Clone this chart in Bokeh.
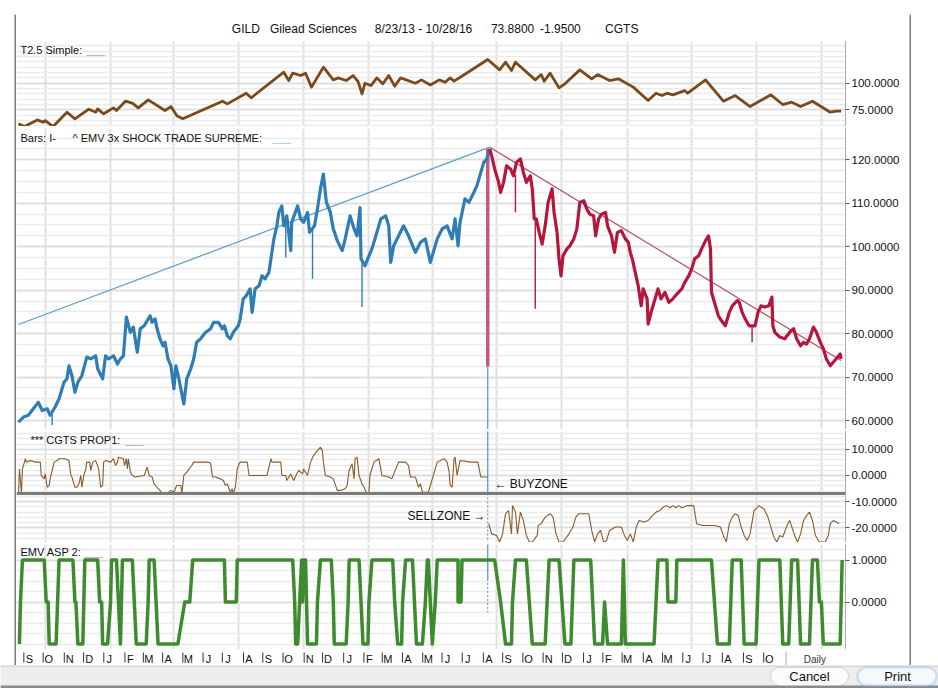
import numpy as np
import pandas as pd
from bokeh.plotting import figure
from bokeh.layouts import column, row, Spacer
from bokeh.models import (Range1d, FixedTicker, NumeralTickFormatter, Label, Span,
                          BoxAnnotation)
from bokeh.core.properties import value
from bokeh.embed import file_html
from bokeh.resources import INLINE

FONT = "Liberation Sans"
BORDER_COLOR = "#7b7b7b"

# ---------------- header ----------------
header_texts = ["GILD", "Gilead Sciences", "8/23/13 - 10/28/16", "73.8800", "-1.9500", "CGTS"]
header_x = [232, 273, 386, 511, 564, 634]

# ---------------- data (x = trading-day index from 8/23/13) ----------------
t25_idx = [0, 6, 19, 25, 27, 35, 49, 57, 71, 78,
           80, 86, 96, 99, 108, 115, 121, 131, 148, 154,
           160, 166, 206, 211, 230, 235, 268, 273, 277, 285,
           290, 296, 308, 318, 323, 331, 338, 343, 347, 350,
           356, 362, 368, 374, 380, 386, 401, 407, 416, 425,
           431, 436, 440, 449, 474, 486, 492, 498, 502, 522,
           528, 531, 537, 546, 552, 567, 579, 585, 597, 606,
           621, 636, 644, 650, 655, 661, 673, 676, 694, 712,
           724, 739, 760, 772, 781, 790, 802, 820, 826, 831]
t25_val = [61.9, 59.4, 65.6, 63.4, 65.0, 59.4, 72.8, 66.6, 75.6, 72.8,
           75.9, 71.3, 76.9, 74.4, 83.1, 81.3, 76.9, 84.4, 74.4, 78.1,
           69.4, 66.6, 83.1, 80.6, 90.6, 86.3, 110.3, 102.5, 109.4, 107.2,
           109.4, 96.3, 115.0, 103.1, 105.0, 102.5, 107.2, 101.6, 90.0, 100.0,
           97.8, 105.0, 99.4, 107.2, 97.2, 105.0, 100.0, 103.1, 98.4, 103.1,
           100.9, 105.0, 101.9, 107.2, 122.2, 112.5, 119.7, 111.9, 119.7, 103.1,
           108.1, 101.9, 109.4, 95.6, 99.4, 112.5, 104.1, 108.1, 102.5, 104.1,
           96.3, 83.8, 90.6, 88.4, 90.6, 89.1, 93.1, 90.6, 103.1, 83.1,
           88.4, 78.1, 89.1, 80.0, 82.2, 78.1, 83.1, 72.8, 73.8, 73.8]

blue_idx = [0, 5, 10, 15, 20, 24, 29, 32, 37, 41,
            46, 49, 51, 54, 57, 60, 64, 69, 73, 78,
            80, 85, 88, 91, 96, 100, 103, 106, 109, 113,
            116, 120, 123, 127, 133, 135, 138, 140, 143, 146,
            148, 151, 154, 157, 159, 162, 167, 170, 174, 177,
            180, 184, 189, 194, 197, 202, 206, 208, 211, 214,
            217, 222, 224, 227, 230, 234, 236, 239, 243, 246,
            249, 253, 255, 258, 261, 263, 266, 268, 271, 275,
            276, 282, 285, 288, 292, 294, 299, 302, 305, 308,
            311, 315, 318, 322, 327, 330, 335, 339, 342, 345,
            346, 350, 354, 357, 361, 366, 371, 374, 376, 379,
            384, 389, 394, 401, 406, 411, 416, 420, 423, 428,
            433, 438, 441, 444, 446, 451, 455, 460, 463, 466,
            470, 473, 476]
blue_val = [59.6, 60.8, 61.2, 62.7, 64.2, 62.3, 62.7, 61.2, 63.1, 65.0,
            68.8, 69.6, 72.6, 70.3, 66.5, 68.8, 70.3, 74.6, 74.2, 74.9,
            71.9, 69.6, 74.9, 74.2, 74.9, 73.0, 74.2, 74.9, 83.8, 80.3,
            81.5, 75.7, 81.1, 81.8, 84.1, 82.6, 83.4, 81.1, 78.8, 77.2,
            78.0, 74.2, 72.6, 67.3, 72.6, 69.6, 63.8, 69.6, 71.9, 74.2,
            78.0, 78.8, 80.3, 81.1, 82.6, 82.6, 81.1, 81.8, 79.5, 78.8,
            80.3, 81.8, 83.4, 88.0, 88.7, 90.3, 84.9, 90.3, 91.0, 93.3,
            92.6, 94.1, 97.2, 101.8, 104.8, 107.9, 109.4, 104.8, 107.1, 99.1,
            105.6, 109.4, 106.4, 105.6, 107.9, 103.3, 104.8, 108.7, 113.3, 116.7,
            110.2, 107.9, 104.1, 101.4, 99.1, 101.8, 107.1, 104.1, 102.5, 109.0,
            97.2, 95.6, 97.9, 99.5, 102.5, 106.4, 107.1, 104.8, 96.4, 100.2,
            102.5, 104.8, 102.5, 98.7, 101.0, 101.8, 96.4, 99.5, 101.8, 104.1,
            104.8, 101.8, 106.4, 100.2, 105.6, 111.0, 110.2, 112.5, 114.0, 116.3,
            119.4, 120.2, 122.5]

red_idx = [476, 478, 481, 485, 487, 490, 493, 497, 500, 503,
           507, 510, 513, 517, 519, 521, 523, 526, 529, 532,
           535, 539, 541, 544, 546, 548, 550, 554, 557, 561,
           564, 567, 571, 574, 577, 581, 583, 586, 589, 593,
           595, 599, 602, 605, 609, 613, 616, 618, 620, 623,
           626, 629, 631, 635, 636, 639, 642, 646, 649, 653,
           657, 661, 665, 670, 673, 677, 680, 683, 687, 690,
           694, 697, 699, 700, 704, 707, 710, 714, 718, 721,
           726, 728, 731, 734, 738, 744, 747, 750, 754, 758,
           761, 762, 764, 769, 774, 779, 783, 786, 790, 793,
           796, 799, 803, 806, 810, 813, 816, 820, 823, 826,
           830, 831]
red_val = [122.5, 120.9, 117.9, 114.8, 112.5, 114.8, 118.6, 117.9, 116.3, 119.4,
           120.2, 117.1, 114.8, 116.3, 113.3, 106.4, 106.4, 103.3, 100.6, 104.8,
           110.2, 113.3, 107.9, 103.3, 97.2, 93.3, 97.9, 99.5, 100.2, 101.8,
           104.1, 110.2, 110.6, 108.7, 107.5, 107.1, 102.5, 106.4, 107.5, 107.9,
           104.8, 102.5, 98.7, 103.3, 103.7, 101.8, 101.0, 98.7, 97.2, 94.1,
           91.0, 86.4, 90.3, 88.0, 82.2, 84.9, 87.2, 90.3, 88.0, 89.5,
           87.2, 88.0, 89.1, 90.3, 91.8, 93.3, 94.9, 97.2, 97.9, 99.5,
           101.4, 102.5, 99.5, 89.5, 86.4, 84.1, 83.0, 81.8, 84.9, 86.4,
           87.6, 87.2, 84.9, 83.4, 81.8, 81.8, 84.9, 86.4, 86.1, 86.4,
           88.4, 81.8, 80.3, 79.2, 78.8, 80.3, 81.1, 78.8, 77.2, 78.0,
           77.6, 78.8, 81.5, 80.3, 78.0, 76.5, 74.2, 72.6, 73.4, 74.2,
           75.3, 74.2]

# single-day spikes (high / low of the bar)
blue_spike_idx = [34, 270, 297, 347]
blue_spike_hi = [61.5, 105.5, 104.0, 97.2]
blue_spike_lo = [58.9, 97.5, 92.6, 86.1]
red_spike_idx = [502, 522, 741]
red_spike_hi = [116.5, 106.4, 81.8]
red_spike_lo = [107.9, 85.7, 78.0]

# trend lines
trend_up_idx = [0, 476]
trend_up_val = [82.1, 122.9]
trend_dn_idx = [476, 831]
trend_dn_val = [122.9, 73.8]

# zone switch bar
switch_idx = 474
switch_lo = 72.4
switch_hi = 122.5

prop_buy_idx = [0, 1, 3, 4, 7, 8, 12, 17, 22, 23,
                26, 27, 29, 31, 32, 36, 39, 41, 47, 51,
                53, 54, 57, 59, 61, 63, 64, 66, 68, 69,
                72, 73, 75, 78, 81, 83, 85, 86, 88, 93,
                96, 98, 100, 101, 106, 107, 109, 110, 111, 113,
                115, 118, 127, 130, 132, 135, 137, 140, 143, 145,
                150, 154, 157, 159, 160, 164, 165, 167, 170, 175,
                177, 191, 194, 196, 199, 204, 207, 209, 211, 214,
                216, 217, 219, 221, 223, 224, 231, 233, 236, 241,
                251, 255, 256, 265, 266, 270, 271, 275, 278, 281,
                283, 287, 288, 292, 295, 298, 302, 305, 307, 308,
                310, 315, 318, 322, 325, 330, 332, 334, 337, 339,
                340, 342, 344, 347, 349, 352, 354, 355, 359, 364,
                366, 367, 374, 377, 384, 391, 394, 396, 401, 404,
                406, 408, 411, 414, 420, 423, 430, 433, 435, 436,
                438, 440, 441, 443, 446, 457, 459, 464, 467, 474]
prop_buy_val = [-7.0, 2.5, -7.0, 2.5, 6.4, 5.1, 5.7, 5.1, 5.1, 0.0,
                -1.3, 0.6, -4.5, -3.8, -1.3, 5.1, 5.7, 6.4, 6.4, 5.7,
                0.0, -0.6, -4.5, -4.5, -3.2, 0.0, -4.5, 0.0, 2.5, 5.1,
                5.1, 1.9, 5.1, 5.7, 2.5, -4.5, -3.8, 5.1, 5.7, 5.1,
                6.4, 3.8, 5.1, 7.0, 6.4, 3.8, 6.4, 2.5, 6.4, 1.3,
                0.0, -0.6, 0.0, 3.2, 0.0, -0.6, -3.2, -4.5, -5.7, -7.0,
                -7.0, -5.7, -6.4, -4.5, -3.8, -3.8, -7.0, 0.0, 1.3, 3.8,
                5.1, 5.1, 4.8, -0.6, -0.6, -1.3, -1.9, -3.8, -3.2, -6.4,
                -5.1, -7.0, -4.5, 2.5, 4.5, 5.1, 5.1, 0.0, 0.0, 0.0,
                0.0, 6.4, 5.1, 5.1, 0.0, 0.0, -1.9, 0.6, -1.9, 0.6,
                1.9, 0.6, 2.5, 0.0, 5.1, 7.6, 9.5, 10.8, 9.5, 5.1,
                0.0, -0.6, -1.3, -5.7, -5.7, -5.1, -3.8, 1.9, 4.5, -1.3,
                6.4, 7.0, 0.0, -3.2, -4.5, -7.0, -6.4, 0.0, 5.1, 6.4,
                2.5, 0.0, -0.6, -1.3, 5.1, 5.1, 3.8, -0.6, -0.6, -4.5,
                -3.2, -6.4, -6.4, -6.4, 1.3, 5.1, 6.4, 5.1, 1.3, -3.8,
                -4.5, 6.4, 7.0, 0.0, 5.7, 5.1, 5.1, 5.1, -0.6, -0.6]

prop_sell_idx = [475, 478, 483, 486, 489, 492, 495, 498, 499, 502,
                 504, 507, 510, 513, 516, 519, 524, 525, 528, 532,
                 537, 540, 543, 546, 550, 555, 560, 563, 566, 570,
                 576, 579, 582, 585, 588, 591, 594, 597, 603, 609,
                 612, 615, 618, 621, 624, 627, 632, 636, 639, 644,
                 648, 651, 655, 658, 661, 664, 667, 670, 676, 682,
                 685, 691, 703, 709, 712, 715, 718, 721, 724, 727,
                 730, 733, 736, 739, 743, 748, 753, 757, 760, 763,
                 766, 769, 772, 777, 779, 784, 787, 790, 793, 796,
                 799, 802, 805, 809, 815, 818, 820, 823, 826, 829]
prop_sell_val = [-18.4, -22.3, -22.9, -25.4, -22.3, -14.6, -13.4, -22.3, -11.5, -14.0,
                 -22.3, -14.0, -17.2, -22.9, -25.4, -25.4, -22.9, -19.1, -18.4, -15.9,
                 -14.6, -15.9, -22.3, -25.4, -25.4, -22.9, -19.7, -15.9, -14.6, -14.6,
                 -14.6, -21.0, -25.4, -22.3, -21.0, -25.4, -24.8, -21.0, -19.7, -19.7,
                 -22.9, -24.8, -22.3, -25.4, -19.7, -17.2, -17.8, -17.2, -15.9, -14.0,
                 -13.4, -12.1, -11.5, -12.3, -11.5, -12.3, -11.5, -12.3, -11.5, -11.5,
                 -18.4, -19.1, -19.1, -19.7, -22.9, -25.4, -18.4, -15.9, -14.6, -15.3,
                 -19.7, -22.9, -24.8, -22.3, -13.4, -11.5, -12.8, -15.9, -19.7, -23.5,
                 -25.4, -22.9, -23.5, -18.4, -17.2, -22.9, -25.4, -22.3, -17.2, -15.3,
                 -14.0, -17.2, -22.9, -25.4, -25.4, -22.9, -18.4, -17.2, -17.8, -18.4]
zone_split = -6.9

emv_idx = [1, 2, 4, 26, 28, 30, 31, 38, 41, 55,
           57, 58, 60, 65, 67, 80, 82, 84, 85, 90,
           93, 94, 99, 101, 103, 105, 115, 117, 119, 129,
           131, 132, 137, 139, 141, 161, 168, 173, 176, 208,
           209, 220, 221, 277, 279, 280, 282, 284, 286, 287,
           288, 290, 291, 292, 301, 302, 305, 316, 318, 319,
           331, 333, 334, 344, 346, 348, 353, 354, 357, 378,
           380, 383, 387, 388, 391, 398, 400, 402, 408, 411,
           413, 414, 416, 418, 421, 423, 444, 444, 447, 448,
           481, 487, 492, 498, 499, 502, 513, 516, 519, 532,
           536, 546, 549, 552, 558, 561, 578, 582, 590, 592,
           595, 609, 611, 613, 642, 646, 655, 656, 664, 665,
           700, 703, 706, 718, 721, 730, 733, 745, 748, 769,
           772, 778, 781, 787, 790, 799, 802, 807, 809, 811,
           813, 830, 832]
emv_val = [-1, 0, 1, 1, 0, 0, -1, -1, 1, 1,
           0, 0, -1, -1, 1, 1, 0, 0, -1, -1,
           0, 1, 1, 0, -1, 1, 1, 0, -1, -1,
           0, 1, 1, 0, -1, -1, 0, 0, 1, 1,
           0, 0, 1, 1, 0, -1, -1, 0, 1, 0,
           1, 1, 0, -1, -1, 0, 1, 1, 0, -1,
           -1, 0, 1, 1, 0, -1, -1, 0, 1, 1,
           0, -1, -1, 0, 1, 1, 0, -1, -1, 0,
           1, 1, 0, -1, 0, 1, 1, 0, 0, 1,
           1, 0, -1, -1, 0, 1, 1, 0, -1, -1,
           1, 1, 0, -1, -1, 1, 1, -1, -1, 0,
           -1, -1, 1, -1, -1, 1, 1, 0, 0, 1,
           1, 0, -1, -1, 1, 1, -1, -1, 1, 1,
           -1, -1, 1, 1, -1, -1, 1, 1, 0, 0,
           -1, -1, 1]

t25_ticks = [75, 100]
main_ticks = [60, 70, 80, 90, 100, 110, 120]
prop_ticks = [-20, -10, 0, 10]
emv_ticks = [0, 1]
period_text = "Daily"

# ---------------- calendar ----------------
bdays = pd.bdate_range("2013-08-23", "2016-10-28")
month_idx, month_letters, quarter_idx = [], [], []
for i in range(1, len(bdays)):
    if bdays[i].month != bdays[i - 1].month:
        month_idx.append(i)
        month_letters.append(bdays[i].strftime("%b")[0])
        if bdays[i].month in (1, 4, 7, 10):
            quarter_idx.append(i)

PXB = 0.99                      # px per bar
FRAME_W = 829
AXIS_W = 64
INNER_W = FRAME_W + AXIS_W
X0 = -2.0
xr = Range1d(X0, X0 + FRAME_W / PXB)


def blank(w, h, color):
    b = figure(width=w, height=h, x_range=Range1d(0, 1), y_range=Range1d(0, 1),
               toolbar_location=None, output_backend="svg",
               x_axis_location=None, y_axis_location=None, min_border=0,
               outline_line_color=None, background_fill_color=color, border_fill_color=color)
    b.xgrid.visible = False
    b.ygrid.visible = False
    return b


def panel(height, y0, y1, ticks, minor):
    p = figure(width=INNER_W, height=height, x_range=xr, y_range=Range1d(y0, y1),
               toolbar_location=None, output_backend="svg",
               y_axis_location="right", x_axis_location=None,
               min_border_left=0, min_border_right=AXIS_W, min_border_top=0,
               min_border_bottom=0,
               outline_line_color=None, background_fill_color="white",
               border_fill_color="white")
    ax = p.yaxis[0]
    ax.ticker = FixedTicker(ticks=ticks, minor_ticks=list(minor))
    ax.formatter = NumeralTickFormatter(format="0.0000")
    ax.axis_line_color = "#5a5a5a"
    ax.axis_line_dash = "1 1"
    ax.major_tick_out = 4
    ax.major_tick_in = 0
    ax.minor_tick_out = 0
    ax.minor_tick_in = 0
    ax.major_tick_line_color = "#5a5a5a"
    ax.major_label_standoff = 2
    ax.major_label_text_font = FONT
    ax.major_label_text_font_size = "11.5px"
    ax.major_label_text_color = "#111111"
    p.ygrid.grid_line_color = "#dcdcdc"
    p.ygrid.grid_line_width = 1.5
    p.ygrid.minor_grid_line_color = "#ebebeb"
    p.ygrid.minor_grid_line_width = 1.5
    p.xgrid.ticker = FixedTicker(ticks=quarter_idx)
    p.xgrid.grid_line_color = "#e0e0e0"
    p.xgrid.grid_line_width = 2
    return p


def lab(p, x, y, text, color="#111111", size="11px", align="left"):
    p.add_layout(Label(x=x, y=y, text=text, text_font=FONT, text_font_size=size,
                       text_color=color, text_baseline="middle", text_align=align))


# ---------------- header ----------------
hdr = figure(width=INNER_W, height=23, x_range=Range1d(0, INNER_W), y_range=Range1d(0, 23),
             toolbar_location=None, output_backend="svg", x_axis_location=None, y_axis_location=None,
             min_border=0, outline_line_color=None)
hdr.xgrid.visible = False
hdr.ygrid.visible = False
for t, x in zip(header_texts, header_x):
    lab(hdr, x, 11, t, size="12px")

# ---------------- T2.5 ----------------
t25 = panel(85, 59.4, 139.1, t25_ticks, np.arange(60, 140, 5))
t25.line(t25_idx, t25_val, line_color="#7a4a1c", line_width=2.8, line_join="round")
lab(t25, 2, 130.7, "T2.5 Simple:")
lab(t25, 68.7, 130.7, "___", color="#a8a8a8")

# ---------------- main ----------------
main = panel(301, 57.93, 127.2, main_ticks, np.arange(57.5, 127.5, 2.5))
main.line(trend_up_idx, trend_up_val, line_color="#5b9cc8", line_width=1.2)
main.line(trend_dn_idx, trend_dn_val, line_color="#b8506c", line_width=1.2)
main.segment(x0=[switch_idx], y0=[switch_lo], x1=[switch_idx], y1=[switch_hi],
             line_color="#c9587c", line_width=3.5)
main.segment(x0=[switch_idx], y0=[switch_lo], x1=[switch_idx], y1=[main.y_range.start - 5],
             line_color="#4f9fd0", line_width=1.3)
main.line(blue_idx, blue_val, line_color="#2f7db5", line_width=3.2, line_join="round")
main.line(red_idx, red_val, line_color="#b5173b", line_width=3.2, line_join="round")
main.segment(x0=blue_spike_idx, y0=blue_spike_lo, x1=blue_spike_idx, y1=blue_spike_hi,
             line_color="#2f7db5", line_width=1.4)
main.segment(x0=red_spike_idx, y0=red_spike_lo, x1=red_spike_idx, y1=red_spike_hi,
             line_color="#b5173b", line_width=1.4)
lab(main, 2, 125.1, "Bars: I-")
lab(main, 54.5, 125.1, "^ EMV 3x SHOCK TRADE SUPREME:")
lab(main, 256.6, 125.1, "___", color="#9dc3dc")

# ---------------- PROP1 ----------------
prop = panel(111, -25.6, 16.8, prop_ticks, np.arange(-26, 18, 2))
prop.add_layout(Span(location=zone_split, dimension="width", line_color=BORDER_COLOR, line_width=3))
prop.segment(x0=[switch_idx], y0=[zone_split], x1=[switch_idx], y1=[30],
             line_color="#4f9fd0", line_width=1.3)
prop.segment(x0=[switch_idx], y0=[zone_split], x1=[switch_idx], y1=[-40],
             line_color="#6a8aa0", line_width=1, line_dash="2 2")
prop.line(prop_buy_idx, prop_buy_val, line_color="#8a5a2a", line_width=1.1)
prop.line(prop_sell_idx, prop_sell_val, line_color="#8a5a2a", line_width=1.1)
lab(prop, 12.1, 13.4, "*** CGTS PROP1:")
lab(prop, 108, 13.4, "___", color="#a8a8a8")
lab(prop, 480.8, -3.4, "\u2190 BUYZONE", size="12px")
lab(prop, 471.7, -15.3, "SELLZONE \u2192", size="12px", align="right")

# ---------------- EMV ASP 2 ----------------
emv = panel(105, -1.131, 1.37, emv_ticks, np.arange(-1.0, 1.5, 0.25))
emv.segment(x0=[switch_idx], y0=[0.55], x1=[switch_idx], y1=[2],
            line_color="#4f9fd0", line_width=1.3)
emv.segment(x0=[switch_idx], y0=[0.55], x1=[switch_idx], y1=[-0.25],
            line_color="#6a8aa0", line_width=1, line_dash="2 2")
emv.line(emv_idx, emv_val, line_color="#3e8a2e", line_width=3.5, line_join="round")
lab(emv, 2, 1.18, "EMV ASP 2:")
lab(emv, 66.7, 1.18, "___", color="#a8a8a8")

# ---------------- month row (time axis) ----------------
MH = 14
mon = figure(width=INNER_W, height=MH, x_range=Range1d(X0, X0 + INNER_W / PXB), y_range=Range1d(0, MH),
             toolbar_location=None, output_backend="svg", x_axis_location=None, y_axis_location=None,
             min_border=0, outline_line_color=None, background_fill_color="white",
             border_fill_color="white")
mon.xgrid.visible = False
mon.ygrid.visible = False
mon.segment(x0=month_idx, y0=[3] * len(month_idx), x1=month_idx, y1=[MH - 1] * len(month_idx),
            line_color="#333333", line_width=1)
mon.text(x=[m + 6 for m in month_idx], y=[7] * len(month_idx), text=month_letters,
         text_font=value(FONT), text_font_size=value("11px"), text_color="#111111",
         text_align="center", text_baseline="middle")
mon.add_layout(Span(location=xr.end, dimension="height", line_color="#5a5a5a",
                    line_dash="1 1", line_width=1))
mon.text(x=[xr.end + 31 / PXB], y=[6], text=[period_text], text_font=value(FONT),
         text_font_size=value("10px"), text_color="#333333", text_align="center",
         text_baseline="middle")

# ---------------- frame assembly ----------------
inner = column(blank(INNER_W, 2, BORDER_COLOR), hdr,
               blank(INNER_W, 2, BORDER_COLOR), t25,
               blank(INNER_W, 2, BORDER_COLOR), main,
               blank(INNER_W, 2, BORDER_COLOR), prop,
               blank(INNER_W, 2, BORDER_COLOR), emv,
               blank(INNER_W, 2, BORDER_COLOR), mon, spacing=0)
H = 2 + 23 + 2 + 85 + 2 + 301 + 2 + 111 + 2 + 105 + 2 + MH
block = row(Spacer(width=14, height=H), blank(2, H, BORDER_COLOR), inner,
            blank(2, H, BORDER_COLOR), spacing=0)

# ---------------- dialog bar ----------------
DW, DH = 938, 23
dlg = figure(width=DW, height=DH, x_range=Range1d(0, DW), y_range=Range1d(0, DH),
             toolbar_location=None, output_backend="svg", x_axis_location=None, y_axis_location=None,
             min_border=0, outline_line_color=None, background_fill_color="#ededed",
             border_fill_color="#ededed")
dlg.xgrid.visible = False
dlg.ygrid.visible = False
dlg.add_layout(BoxAnnotation(left=0, right=DW, bottom=0, top=3, fill_color="#8a8a8a",
                             fill_alpha=1, line_color=None))
dlg.add_layout(Span(location=DH - 0.5, dimension="width", line_color="#c4c4c4", line_width=1))
dlg.add_layout(BoxAnnotation(left=770, right=848, bottom=3, top=21, border_radius=9,
                             fill_color="#fbfbfb", fill_alpha=1, line_color="#8e8e8e", line_width=1))
dlg.add_layout(BoxAnnotation(left=857, right=936, bottom=3, top=21, border_radius=9,
                             fill_color="#f6f9fc", fill_alpha=1, line_color="#7aaee0", line_width=2.5))
lab(dlg, 809, 12, "Cancel", size="13px", align="center")
lab(dlg, 897, 12, "Print", size="13px", align="center")

page = column(Spacer(width=DW, height=14), block, dlg, spacing=0)
open("out.html", "w").write(file_html(page, INLINE))
